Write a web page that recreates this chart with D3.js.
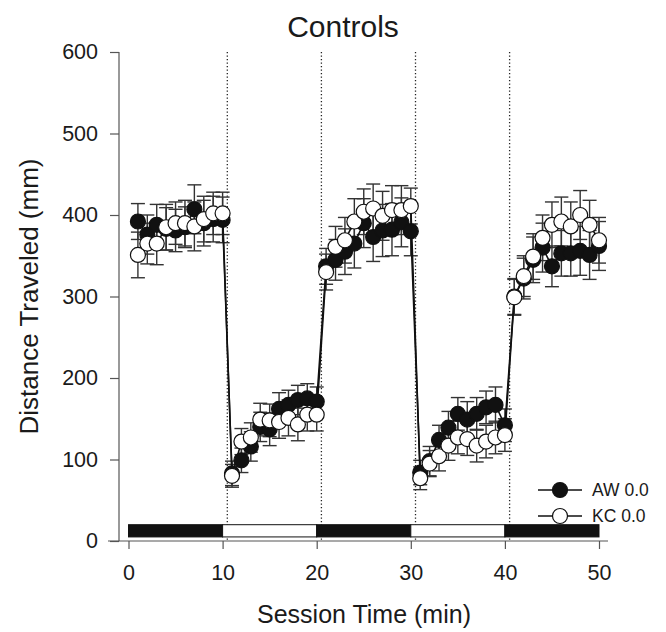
<!DOCTYPE html>
<html>
<head>
<meta charset="utf-8">
<script src="https://cdnjs.cloudflare.com/ajax/libs/d3/7.8.5/d3.min.js"></script>
<style>
    html, body { margin: 0; padding: 0; background: #fff; }
    #chart { width: 666px; height: 632px; }
    text { font-family: "Liberation Sans", Arial, sans-serif; fill: #1a1a1a; }
</style>
</head>
<body>
<div id="chart"></div>
<script>
// session minutes at which each bin was sampled
var minutes = [1, 2, 3, 4, 5, 6, 7, 8, 9, 10,
    11, 12, 13, 14, 15, 16, 17, 18, 19, 20,
    21, 22, 23, 24, 25, 26, 27, 28, 29, 30,
    31, 32, 33, 34, 35, 36, 37, 38, 39, 40,
    41, 42, 43, 44, 45, 46, 47, 48, 49, 50];

var awMeans = [392, 376, 388, 383, 381, 385, 407, 390, 395, 394,
    83, 99, 116, 140, 137, 162, 167, 173, 175, 171,
    337, 345, 355, 365, 390, 373, 381, 382, 391, 380,
    84, 98, 124, 139, 156, 149, 156, 164, 167, 142,
    300, 322, 345, 360, 337, 353, 353, 356, 351, 362];
var awErrors = [22, 24, 25, 26, 26, 25, 30, 28, 28, 28,
    15, 15, 18, 18, 20, 20, 18, 18, 18, 18,
    22, 25, 28, 30, 30, 30, 32, 32, 30, 30,
    15, 18, 18, 20, 20, 22, 20, 20, 22, 20,
    22, 25, 28, 30, 25, 28, 28, 30, 30, 30];

var kcMeans = [351, 365, 365, 385, 390, 390, 386, 395, 402, 402,
    80, 122, 127, 149, 148, 146, 151, 143, 155, 155,
    330, 361, 369, 392, 404, 408, 399, 406, 406, 411,
    77, 95, 104, 117, 127, 125, 117, 122, 127, 130,
    299, 325, 349, 372, 388, 392, 386, 400, 388, 369];
var kcErrors = [28, 25, 26, 28, 26, 28, 30, 28, 26, 26,
    14, 16, 18, 20, 20, 20, 22, 20, 20, 20,
    22, 25, 28, 28, 28, 30, 30, 30, 30, 22,
    14, 16, 18, 18, 20, 20, 20, 20, 20, 20,
    22, 25, 28, 28, 28, 30, 30, 30, 30, 28];

// light/dark phases shown in the bar along the bottom
var phaseStarts = [0, 10, 20, 30, 40];
var phaseEnds = [10, 20, 30, 40, 50];
var phaseDark = [true, false, true, false, true];
// dotted markers at the phase changes
var phaseLines = [10.5, 20.5, 30.5, 40.5];

var xTicks = [0, 10, 20, 30, 40, 50];
var yTicks = [0, 100, 200, 300, 400, 500, 600];
var seriesNames = ["AW 0.0", "KC 0.0"];

(function(d3) {
    "use strict";

    var width = 666, height = 632;
    var margin = { left: 119, top: 52, right: 58, bottom: 91 };

    var svg = d3.select("#chart")
        .append("svg")
        .attr("xmlns", "http://www.w3.org/2000/svg")
        .attr("width", width)
        .attr("height", height);

    var x = d3.scaleLinear()
        .domain([0, 50])
        .range([128.5, 599]);
    var y = d3.scaleLinear()
        .domain([0, 600])
        .range([height - margin.bottom, margin.top]);

    var axisColor = "#555";

    // dotted phase lines
    svg.append("g")
        .selectAll("line")
        .data(phaseLines)
        .enter()
        .append("line")
        .attr("x1", function(d) { return x(d); })
        .attr("x2", function(d) { return x(d); })
        .attr("y1", y(600))
        .attr("y2", y(0))
        .attr("stroke", "#222")
        .attr("stroke-width", 1.3)
        .attr("stroke-dasharray", "1.3,2.2");

    // phase bar
    svg.append("g")
        .selectAll("rect")
        .data(phaseStarts)
        .enter()
        .append("rect")
        .attr("x", function(d) { return x(d); })
        .attr("width", function(d, i) { return x(phaseEnds[i]) - x(d); })
        .attr("y", y(20))
        .attr("height", y(5) - y(20))
        .attr("fill", function(d, i) { return phaseDark[i] ? "#111" : "#fff"; })
        .attr("stroke", "#111")
        .attr("stroke-width", 1);

    // y axis
    var yAxis = svg.append("g")
        .attr("transform", "translate(" + margin.left + ",0)")
        .call(d3.axisLeft(y).tickValues(yTicks).tickSize(9).tickPadding(12));
    // x axis
    var xAxis = svg.append("g")
        .attr("transform", "translate(0," + y(0) + ")")
        .call(d3.axisBottom(x).tickValues(xTicks).tickSize(8).tickPadding(16));

    [yAxis, xAxis].forEach(function(axis) {
        axis.select(".domain").remove();
        axis.selectAll(".tick line").attr("stroke", axisColor).attr("stroke-width", 1.2);
        axis.selectAll(".tick text")
            .attr("fill", "#1a1a1a")
            .style("font-family", "'Liberation Sans', Arial, sans-serif")
            .style("font-size", "21.5px");
    });
    svg.append("line")
        .attr("x1", margin.left).attr("x2", margin.left)
        .attr("y1", y(600)).attr("y2", y(0))
        .attr("stroke", axisColor).attr("stroke-width", 1.2);
    svg.append("line")
        .attr("x1", margin.left - 11).attr("x2", x(50) + 9)
        .attr("y1", y(0)).attr("y2", y(0))
        .attr("stroke", axisColor).attr("stroke-width", 1.2);

    // series
    var series = [
        { means: awMeans, errors: awErrors, fill: "#111" },
        { means: kcMeans, errors: kcErrors, fill: "#fff" }
    ];
    var capHalf = 7;
    var radius = 7.5;

    series.forEach(function(s) {
        var bars = svg.append("g")
            .selectAll("g")
            .data(minutes)
            .enter()
            .append("g")
            .attr("stroke", "#333")
            .attr("stroke-width", 1.4);
        bars.append("line")
            .attr("x1", function(d) { return x(d); })
            .attr("x2", function(d) { return x(d); })
            .attr("y1", function(d, i) { return y(s.means[i] + s.errors[i]); })
            .attr("y2", function(d, i) { return y(s.means[i] - s.errors[i]); });
        bars.append("line")
            .attr("x1", function(d) { return x(d) - capHalf; })
            .attr("x2", function(d) { return x(d) + capHalf; })
            .attr("y1", function(d, i) { return y(s.means[i] + s.errors[i]); })
            .attr("y2", function(d, i) { return y(s.means[i] + s.errors[i]); });
        bars.append("line")
            .attr("x1", function(d) { return x(d) - capHalf; })
            .attr("x2", function(d) { return x(d) + capHalf; })
            .attr("y1", function(d, i) { return y(s.means[i] - s.errors[i]); })
            .attr("y2", function(d, i) { return y(s.means[i] - s.errors[i]); });
    });

    series.forEach(function(s) {
        svg.append("path")
            .datum(minutes)
            .attr("fill", "none")
            .attr("stroke", "#111")
            .attr("stroke-width", 1.6)
            .attr("d", d3.line()
                .x(function(d) { return x(d); })
                .y(function(d, i) { return y(s.means[i]); }));
    });

    series.forEach(function(s) {
        svg.append("g")
            .selectAll("circle")
            .data(minutes)
            .enter()
            .append("circle")
            .attr("cx", function(d) { return x(d); })
            .attr("cy", function(d, i) { return y(s.means[i]); })
            .attr("r", radius)
            .attr("fill", s.fill)
            .attr("stroke", "#111")
            .attr("stroke-width", 1.2);
    });

    // legend
    var legend = svg.append("g")
        .selectAll("g")
        .data(seriesNames)
        .enter()
        .append("g")
        .attr("transform", function(d, i) { return "translate(538," + (490 + i * 26) + ")"; });
    legend.append("line")
        .attr("x1", 0).attr("x2", 44)
        .attr("stroke", "#111").attr("stroke-width", 1.4);
    legend.append("circle")
        .attr("cx", 22).attr("r", radius)
        .attr("fill", function(d, i) { return series[i].fill; })
        .attr("stroke", "#111").attr("stroke-width", 1.2);
    legend.append("text")
        .attr("x", 54).attr("dy", "0.35em")
        .style("font-size", "17.5px")
        .text(function(d) { return d; });

    // titles
    svg.append("text")
        .attr("x", 343).attr("y", 37)
        .attr("text-anchor", "middle")
        .style("font-size", "30px")
        .text("Controls");
    svg.append("text")
        .attr("transform", "translate(38," + y(300) + ") rotate(-90)")
        .attr("text-anchor", "middle")
        .style("font-size", "26px")
        .text("Distance Traveled (mm)");
    svg.append("text")
        .attr("x", 364).attr("y", 623)
        .attr("text-anchor", "middle")
        .style("font-size", "25px")
        .text("Session Time (min)");
})(window.d3);
</script>
</body>
</html>
